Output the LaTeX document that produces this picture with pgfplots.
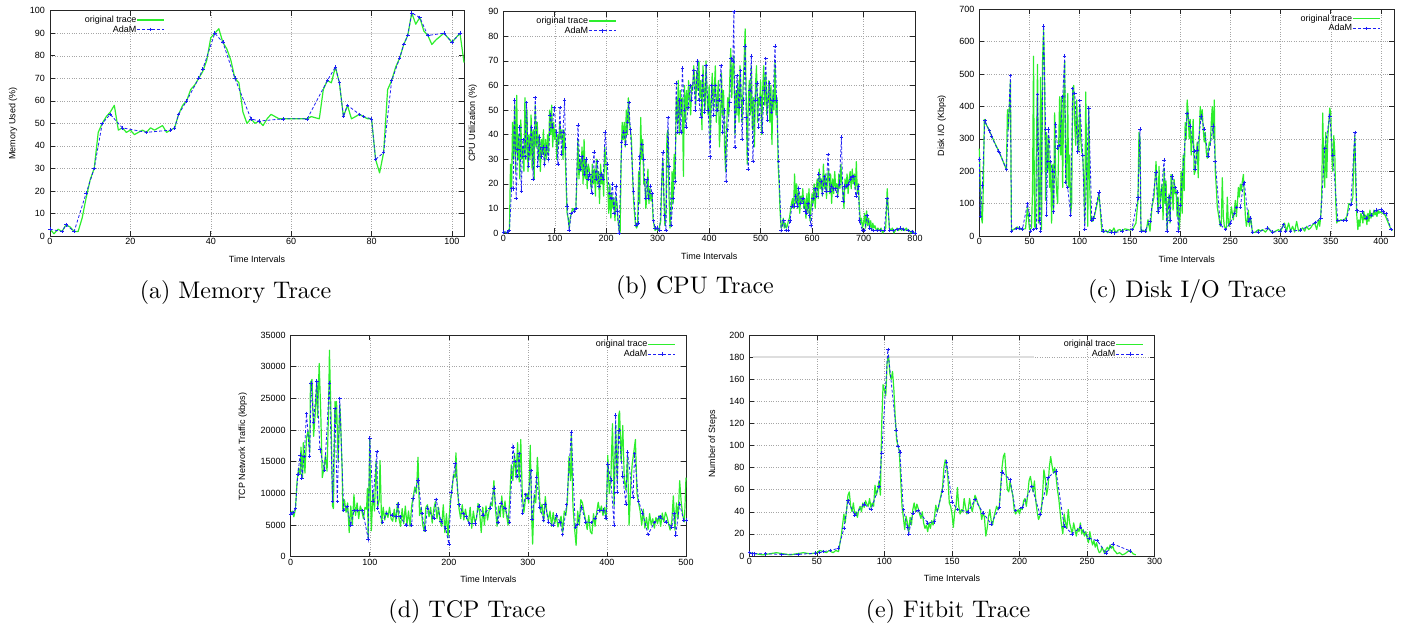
\documentclass[border=0pt]{standalone}
\usepackage{fontspec}
\usepackage{pgfplots}
\pgfplotsset{compat=1.18}
\newfontfamily\hv{Liberation Sans}
\newfontfamily\capfont{lmroman10-regular}[Extension=.otf]
\definecolor{gtrace}{RGB}{45,238,45}
\definecolor{adamc}{RGB}{30,30,245}
\pgfplotsset{
  trace/.style={
    scale only axis, anchor=south west, clip=false,
    axis line style={black!85, line width=0.8pt},
    tick align=inside, major tick length=5pt, tick style={black!85, line width=0.6pt},
    grid=major, major grid style={dotted, black!35, line width=0.5pt},
    ticklabel style={font=\hv\fontsize{9}{10}\selectfont},
    /pgf/number format/assume math mode=true,
    /pgf/number format/1000 sep={},
    scaled ticks=false,
    xticklabel style={yshift=1.5pt},
    yticklabel style={xshift=-1.5pt},
    legend style={draw=none, fill=none, font=\hv\fontsize{9}{10}\selectfont, inner sep=0pt, row sep=1pt, anchor=north east, nodes={inner sep=0.3pt}, /tikz/every even column/.append style={column sep=5pt}},
    legend cell align=right, legend plot pos=right,
    legend image code/.code={\draw[mark repeat=2,mark phase=2,##1] plot coordinates {(0pt,0pt) (13.5pt,0pt) (27pt,0pt)};},
  },
  orig/.style={color=gtrace, line width=1.2pt, no markers, line join=round},
  adam/.style={color=adamc, dash pattern=on 3pt off 2pt, line width=0.8pt, mark=+, mark size=1.8pt, mark options={solid, line width=0.6pt}},
}
\tikzset{lab/.style={font=\hv\fontsize{9}{10}\selectfont}, captxt/.style={font=\capfont\fontsize{24}{28}\selectfont, anchor=base}}
\begin{document}
\begin{tikzpicture}
\useasboundingbox (0pt,0pt) rectangle (1411pt,627pt);
% (a) Memory
\begin{axis}[trace, at={(50pt,391pt)}, width=414pt, height=225.3pt, xmin=0, xmax=103, ymin=0, ymax=100, xtick={0,20,...,100}, ytick={0,10,...,100}, legend style={at={(0.278,0.979)}}]
\draw[black!13, line width=1.2pt] (axis cs:29.5,90) -- (axis cs:103,90);
\addplot[orig] coordinates {(0,3)(1,1)(2,3)(3,2)(4,5)(5,4)(6,2)(7,2)(8,8)(9,17)(10,25)(11,30)(12,46)(13,50)(14,53)(15,55)(16,58)(17,47)(18,48)(19,46)(20,47)(21,45)(22,46)(23,47)(24,46)(25,48)(26,47)(27,48)(28,49)(29,46)(30,47)(31,48)(32,54)(33,58)(34,60)(35,65)(36,67)(37,70)(38,73)(39,78)(40,88)(41,90)(42,92)(43,86)(44,83)(45,78)(46,70)(47,68)(48,55)(49,50)(50,52)(51,50)(52,51)(53,49)(54,52)(55,54)(56,53)(57,52)(58,52)(64,52)(65,53)(67,52)(68,65)(69,69)(70,68)(71,75)(72,68)(73,53)(74,58)(75,52)(76,53)(77,54)(78,53)(79,52)(80,52)(81,34)(82,28)(83,37)(84,65)(85,69)(86,75)(87,79)(88,85)(89,89)(90,99)(91,94)(92,97)(93,91)(94,89)(95,85)(96,87)(98,90)(99,88)(100,86)(101,88)(102,90)(103,77)};
\addlegendentry{original trace}
\addplot[adam] coordinates {(0,3)(3,2)(4,5)(6,2)(9,19)(11,30)(13,50)(15,54)(18,48)(24,46)(30,47)(31,48)(32,54)(34,60)(37,70)(38,74)(41,90)(43,86)(46,70)(50,52)(52,51)(58,52)(64,52)(69,69)(71,75)(72,68)(73,53)(74,58)(77,54)(78,53)(80,52)(81,34)(83,37)(85,69)(87,79)(88,85)(89,89)(90,99)(92,97)(94,89)(98,90)(100,86)(102,90)};
\addlegendentry{AdaM}
\end{axis}
% (b) CPU
\begin{axis}[trace, at={(503.3pt,394pt)}, width=411.7pt, height=221.3pt, xmin=0, xmax=800, ymin=0, ymax=90, xtick={0,100,...,800}, ytick={0,10,...,90}, legend style={at={(0.2755,0.978)}}]
\addplot[orig] coordinates {(0,0)(3,0.5)(6,0)(9,0.5)(12,2)(14,28)(16,18)(18,45)(20,30)(22,52)(24,25)(26,56)(28,30)(30,40)(32,22)(34,46)(36,30)(38,35)(40,25)(42,55)(44,30)(46,50)(48,25)(50,40)(52,30)(54,48)(56,26)(58,42)(60,22)(62,52)(64,35)(66,45)(68,30)(70,40)(72,25)(74,38)(76,32)(78,42)(80,28)(82,38)(84,30)(86,40)(88,32)(90,50)(92,40)(94,52)(96,35)(98,45)(100,38)(102,42)(104,30)(106,40)(108,36)(110,45)(112,38)(114,42)(116,30)(118,42)(120,35)(122,20)(124,8)(126,6)(128,2)(130,6)(132,8)(135,10)(138,9)(141,10)(143,22)(145,38)(147,22)(149,30)(151,25)(153,35)(155,20)(157,38)(159,22)(161,30)(163,18)(165,28)(167,26)(169,22)(171,18)(173,28)(175,20)(177,26)(179,15)(181,30)(183,20)(185,25)(187,12)(189,28)(191,20)(193,24)(195,15)(197,35)(199,30)(201,22)(203,18)(205,8)(207,20)(209,6)(211,16)(213,10)(215,14)(217,5)(219,15)(221,12)(223,5)(225,2)(227,0)(229,30)(231,45)(233,38)(235,45)(237,35)(239,50)(241,40)(243,55)(245,45)(247,42)(249,38)(251,25)(253,14)(255,8)(257,3)(259,2)(261,3)(263,25)(265,12)(267,47)(269,30)(271,38)(273,20)(275,22)(277,10)(279,15)(281,26)(283,12)(285,18)(287,13)(289,16)(291,6)(293,3)(295,1)(297,2)(300,1)(303,2)(306,5)(308,22)(310,30)(312,15)(314,3)(316,8)(318,40)(320,42)(322,15)(324,2)(326,8)(328,25)(330,12)(332,32)(334,22)(336,55)(338,45)(340,62)(342,40)(344,58)(346,48)(348,55)(350,23)(352,60)(354,45)(356,58)(358,50)(360,62)(362,55)(364,48)(366,60)(368,58)(370,68)(372,62)(374,52)(376,66)(378,58)(380,70)(382,55)(384,62)(386,42)(388,68)(390,58)(392,50)(394,70)(396,55)(398,48)(400,60)(402,38)(404,55)(406,65)(408,50)(410,58)(412,68)(414,45)(416,55)(418,62)(420,35)(422,45)(424,65)(426,48)(428,58)(430,35)(432,25)(434,42)(436,55)(438,48)(440,62)(442,75)(444,55)(446,68)(448,72)(450,40)(452,58)(454,48)(456,62)(458,45)(460,68)(462,55)(464,45)(466,60)(468,70)(470,83)(472,55)(474,28)(476,52)(478,62)(480,48)(482,68)(484,42)(486,55)(488,35)(490,60)(492,68)(494,45)(496,55)(498,52)(500,62)(502,40)(504,58)(506,68)(508,52)(510,65)(512,48)(514,55)(516,62)(518,45)(520,60)(522,36)(524,58)(526,50)(528,70)(530,48)(532,55)(534,28)(536,20)(538,8)(540,2)(542,3)(544,6)(546,2)(548,4)(550,2)(552,3)(554,5)(556,6)(558,9)(560,12)(562,14)(564,10)(566,24)(568,12)(570,20)(572,10)(574,17)(576,8)(578,15)(580,12)(582,18)(584,10)(586,14)(588,6)(590,16)(592,8)(594,18)(596,5)(598,10)(600,16)(602,12)(604,20)(606,10)(608,18)(610,22)(612,14)(614,26)(616,18)(618,22)(620,15)(622,28)(624,18)(626,24)(628,14)(630,22)(632,26)(634,16)(636,24)(638,12)(640,22)(642,16)(644,25)(646,18)(648,20)(650,15)(652,24)(654,18)(656,28)(658,20)(660,16)(662,10)(664,22)(666,18)(668,24)(670,16)(672,22)(674,25)(676,18)(678,26)(680,20)(682,24)(684,18)(686,29)(688,16)(690,20)(692,10)(694,4)(696,6)(698,2)(700,4)(702,8)(704,2)(706,9)(708,3)(710,6)(712,2)(714,5)(716,1)(718,4)(720,2)(722,3)(725,1)(728,2)(731,1)(734,2)(737,0)(740,1)(743,2)(746,18)(748,10)(750,2)(753,1)(756,2)(759,0)(762,1)(765,2)(768,1)(771,2)(774,1)(777,2)(780,1)(783,2)(786,1)(789,1)(792,0)(795,1)(798,0)(800,0)};
\addlegendentry{original trace}
\addplot[adam] coordinates {(0,0.4)(8,0.4)(12,1)(16,18)(19,18)(22,54)(25,14)(28,34)(32,43)(35,17)(38,38)(42,31)(45,53)(49,27)(51,35)(55,43)(58,22)(62,55)(67,27)(70,39)(74,31)(77,35)(80,28)(84,35)(88,30)(91,48)(95,43)(99,51)(103,41)(106,28)(110,51)(113,32)(116,41)(119,54)(121,35)(124,11)(128,1)(132,8)(138,9)(141,10)(145,44)(149,26)(153,31)(158,24)(161,30)(165,22)(168,24)(172,16)(176,33)(180,22)(183,29)(186,19)(190,24)(194,22)(198,41)(202,28)(206,16)(209,14)(212,20)(215,8)(219,19)(221,9)(225,0)(230,37)(234,41)(238,36)(241,45)(244,53)(247,42)(253,17)(258,3)(262,4)(265,31)(269,36)(273,30)(276,14)(279,22)(282,14)(286,19)(289,16)(292,5)(295,2)(300,2)(304,1)(310,33)(313,7)(316,1)(320,47)(322,27)(326,3)(330,14)(334,21)(336,61)(339,41)(342,54)(345,41)(348,67)(352,50)(355,43)(359,51)(363,60)(366,54)(370,66)(373,50)(377,70)(380,54)(384,47)(387,64)(391,49)(394,68)(398,50)(402,31)(405,60)(409,48)(412,60)(415,50)(419,54)(423,68)(426,41)(430,50)(433,21)(436,42)(440,53)(443,71)(446,70)(448,90)(450,35)(454,64)(458,51)(461,66)(464,38)(467,54)(470,76)(472,47)(476,26)(479,58)(482,72)(485,29)(489,54)(493,61)(496,43)(500,55)(503,41)(507,58)(510,71)(513,46)(517,61)(521,49)(524,54)(528,76)(531,54)(535,29)(540,1)(545,5)(549,1)(553,1)(557,5)(561,11)(565,11)(568,15)(571,11)(574,18)(578,12)(582,14)(586,9)(589,8)(592,12)(595,7)(598,3)(602,14)(606,18)(609,15)(613,24)(617,21)(620,16)(624,23)(627,17)(631,32)(635,17)(638,19)(642,18)(646,18)(649,15)(653,20)(657,39)(660,13)(663,19)(667,19)(671,20)(675,22)(678,23)(681,23)(685,15)(690,19)(692,5)(698,1)(702,1)(707,7)(712,2)(718,1)(726,1)(733,1)(740,1)(746,14)(751,1)(757,1)(765,1.5)(772,2)(778,1.5)(786,1)(794,0.5)(800,0)};
\addlegendentry{AdaM}
\end{axis}
% (c) Disk
\begin{axis}[trace, at={(979.3pt,391pt)}, width=414.7pt, height=226.7pt, xmin=0, xmax=413, ymin=0, ymax=700, xtick={0,50,...,400}, ytick={0,100,...,700}, legend style={at={(0.968,0.978)}}]
\addplot[orig] coordinates {(0,270)(1,150)(2,60)(3,40)(4,150)(5,360)(6,350)(10,325)(15,290)(20,258)(27,205)(28,390)(29,330)(30,400)(31,480)(32,15)(33,18)(35,22)(38,28)(40,20)(43,22)(46,22)(48,90)(50,20)(52,25)(53,140)(54,555)(55,30)(56,25)(57,300)(58,530)(59,40)(60,50)(61,490)(62,20)(63,540)(64,640)(65,500)(66,110)(67,320)(68,200)(69,310)(70,150)(71,230)(72,40)(73,220)(74,80)(75,380)(76,200)(77,140)(78,100)(79,270)(80,430)(81,250)(82,430)(83,150)(84,420)(85,540)(86,200)(87,160)(88,440)(89,150)(90,250)(91,70)(92,100)(93,450)(94,465)(95,350)(96,280)(97,420)(98,300)(99,260)(100,400)(101,300)(102,260)(103,250)(104,180)(105,40)(106,445)(107,200)(108,30)(109,400)(110,150)(111,50)(112,60)(113,45)(114,55)(116,80)(118,110)(119,130)(120,100)(122,15)(124,12)(126,18)(128,10)(130,20)(132,12)(134,25)(136,10)(138,18)(140,20)(142,15)(145,22)(148,20)(150,18)(153,22)(156,40)(158,110)(159,320)(160,300)(161,15)(163,18)(166,12)(168,50)(170,15)(172,90)(174,120)(176,230)(177,150)(178,70)(179,215)(180,100)(182,160)(183,50)(184,210)(185,100)(186,170)(187,20)(188,100)(189,130)(190,40)(191,190)(192,160)(193,80)(194,175)(195,130)(196,140)(197,60)(198,120)(199,20)(200,60)(201,200)(202,70)(203,250)(204,140)(205,350)(206,300)(207,420)(208,380)(209,300)(210,360)(211,250)(212,300)(213,360)(214,190)(215,200)(216,250)(217,290)(218,180)(219,300)(220,400)(221,360)(222,390)(223,330)(224,290)(225,320)(226,260)(227,240)(228,260)(229,290)(230,280)(231,350)(232,400)(233,300)(234,420)(235,200)(236,150)(237,90)(238,70)(239,50)(240,30)(241,40)(242,180)(243,60)(244,30)(245,25)(246,20)(247,120)(248,40)(249,30)(250,60)(251,90)(252,70)(253,50)(254,80)(255,110)(256,60)(257,100)(258,150)(259,120)(260,160)(261,140)(262,170)(263,190)(264,120)(265,60)(266,30)(267,50)(268,80)(269,30)(270,60)(271,40)(272,10)(275,12)(278,20)(280,15)(282,20)(285,12)(288,25)(290,15)(292,10)(295,15)(298,20)(300,12)(302,30)(304,40)(306,15)(308,40)(310,15)(312,30)(314,12)(316,45)(318,15)(320,20)(322,25)(324,15)(326,30)(328,20)(330,25)(332,35)(334,40)(336,20)(338,50)(339,30)(340,60)(341,120)(342,380)(343,200)(344,150)(345,320)(346,180)(347,300)(348,350)(349,395)(350,380)(351,250)(352,200)(353,310)(354,260)(355,100)(356,40)(357,50)(358,45)(360,50)(362,48)(364,52)(366,60)(368,100)(370,95)(372,120)(373,250)(374,310)(375,150)(376,60)(377,20)(378,50)(379,30)(380,70)(381,60)(382,40)(383,75)(384,50)(385,65)(386,35)(387,70)(388,45)(389,80)(390,55)(391,70)(392,60)(393,80)(394,65)(395,75)(396,60)(397,80)(398,70)(399,75)(400,72)(402,70)(404,65)(406,50)(408,35)(410,20)(412,18)};
\addlegendentry{original trace}
\addplot[adam] coordinates {(0,238)(1,60)(3,155)(5.5,356)(10,325)(12,308)(19,262)(20,258)(27,205)(31,495)(32,15)(37,23)(40,25)(43,22)(48,100)(50,65)(51,15)(54,20)(57,25)(58,437)(60,50)(61,15)(64,648)(66,330)(67,65)(68,230)(69,330)(71,230)(73,200)(74,75)(76,345)(78,270)(80,280)(83,430)(85,555)(86,165)(88,150)(91,65)(93,455)(95,440)(98,260)(100,418)(103,250)(105,20)(109,395)(112,50)(114,55)(119,135)(123,15)(131,12)(134,10)(142,15)(152,20)(158,118)(160,330)(161,15)(165,15)(170,45)(176,198)(178,75)(180,90)(184,235)(187,15)(189,120)(190,50)(192,185)(195,150)(197,135)(198,15)(200,95)(207,378)(210,340)(214,262)(215,205)(217,265)(221,370)(224,330)(228,245)(233,340)(235,230)(240,35)(245,20)(250,40)(254,70)(256,88)(260,90)(263,160)(264,165)(268,45)(270,55)(272,12)(278,12)(287,25)(292,12)(300,15)(303,35)(305,15)(310,15)(320,18)(335,42)(340,55)(344,270)(349,370)(352,250)(357,48)(362,48)(365,48)(370,98)(374,320)(376,78)(381,75)(385,55)(390,65)(395,80)(400,82)(402,75)(405,70)(410,20)};
\addlegendentry{AdaM}
\end{axis}
% (d) TCP
\begin{axis}[trace, at={(290.7pt,70.3pt)}, width=395.3pt, height=221.7pt, xmin=0, xmax=500, ymin=0, ymax=35000, xtick={0,100,...,500}, ytick={0,5000,...,35000}, legend style={at={(0.975,0.978)}}]
\addplot[orig] coordinates {(0,6800)(2,7200)(4,6300)(6,7500)(8,11800)(10,14000)(12,13000)(13,17300)(15,12500)(16,18000)(18,13200)(20,18800)(22,19800)(24,16500)(25,27500)(27,28000)(29,19000)(31,22600)(33,27800)(34,22000)(36,30500)(38,22800)(40,12500)(42,14000)(44,16000)(46,13500)(48,24000)(49,32600)(51,22000)(53,8000)(54,7600)(56,24500)(57,21000)(58,24500)(60,15000)(62,24000)(63,21800)(65,14000)(66,7200)(68,9000)(70,7000)(72,8500)(74,3800)(76,8000)(78,5000)(80,9800)(82,6500)(84,8500)(86,6000)(88,8000)(90,7200)(92,6000)(94,7800)(96,7500)(97,10800)(98,3000)(100,18500)(101,9000)(102,4100)(104,10200)(106,7200)(108,15000)(110,7800)(112,9000)(113,15200)(115,5200)(117,7800)(119,5800)(121,7200)(123,6200)(125,7800)(127,6000)(129,5600)(131,7500)(133,5500)(135,8500)(137,6000)(139,4800)(141,7600)(143,5200)(145,8000)(147,5000)(149,7200)(151,4800)(153,8000)(155,9500)(157,11000)(159,10000)(161,15700)(163,6500)(165,7800)(167,5000)(169,4000)(171,7800)(173,8200)(175,6300)(177,7800)(179,5300)(181,7500)(183,8700)(185,6000)(187,7800)(189,5500)(191,4800)(193,8200)(195,3800)(197,6800)(199,3000)(200,5500)(202,8800)(204,10500)(206,13000)(208,12500)(209,16400)(211,10500)(213,7500)(215,6000)(217,8200)(219,5800)(221,7500)(223,6000)(225,5500)(227,7800)(229,4500)(231,7200)(233,5500)(235,6000)(237,8400)(239,7000)(241,3800)(243,7800)(245,5000)(247,8000)(249,5800)(251,7300)(253,8500)(255,8000)(257,12000)(259,7500)(261,4800)(263,8000)(265,6300)(267,9600)(269,6200)(271,8800)(273,6500)(275,5000)(277,9000)(279,14500)(281,12000)(283,16300)(285,12500)(287,18000)(289,11800)(291,18500)(293,9500)(295,7000)(297,9200)(299,10000)(301,8500)(303,17600)(305,5500)(306,2000)(308,9800)(310,8500)(312,15700)(314,11000)(316,7000)(318,8300)(320,5500)(322,9500)(324,7000)(326,5800)(328,7200)(330,4800)(332,7000)(334,5200)(336,6500)(338,4700)(340,5500)(342,6400)(344,3900)(346,7200)(348,6500)(350,8800)(352,15800)(354,12000)(355,19500)(357,8000)(359,4500)(361,1800)(363,7200)(365,5000)(367,9000)(369,8500)(371,7000)(373,5800)(375,4300)(377,6500)(379,4000)(381,3600)(383,6800)(385,4800)(387,7000)(389,8600)(391,7000)(393,8000)(395,6500)(397,7800)(399,5800)(401,16000)(403,10000)(405,12500)(407,21000)(409,8000)(411,20800)(413,12000)(415,22400)(416,23000)(418,15000)(420,20700)(422,12000)(424,10500)(426,16000)(428,5000)(430,11000)(432,14700)(434,16500)(436,18500)(438,10000)(440,8500)(442,7200)(444,5000)(446,7500)(448,4500)(450,6200)(452,4300)(454,6800)(456,5000)(458,6000)(460,4500)(462,6200)(464,5200)(466,6500)(468,4800)(470,6900)(472,5500)(474,7000)(476,6300)(478,5200)(480,4200)(482,5500)(484,9600)(486,4200)(488,8500)(490,6000)(492,12000)(494,8500)(496,6500)(498,5500)(500,12500)};
\addlegendentry{original trace}
\addplot[adam] coordinates {(0,6740)(3,6950)(6,7580)(9,13050)(12,16050)(14,12370)(17,15800)(20,22600)(24,15900)(26,27400)(29,21200)(33,27700)(37,16900)(43,13700)(49,27400)(53,8700)(56,23400)(59,8700)(62,25000)(67,7400)(71,7900)(76,5000)(80,7300)(84,7300)(91,7300)(98,2800)(100,18700)(104,8800)(109,16600)(110,7600)(116,5500)(121,6800)(128,6600)(133,6300)(136,8300)(138,6300)(146,5000)(153,5000)(155,9200)(161,12100)(166,6800)(170,4200)(173,7700)(181,6000)(184,9000)(190,5600)(196,4500)(200,2000)(203,10200)(208,14700)(213,8200)(218,6800)(222,6300)(226,5200)(233,5200)(238,8000)(243,6600)(252,7700)(257,10800)(262,5400)(266,8500)(271,7600)(277,5500)(281,17300)(284,15000)(286,12700)(289,16300)(293,6900)(297,9800)(300,9200)(304,13600)(305,5900)(311,12500)(315,7800)(320,5800)(322,8300)(326,5500)(332,4900)(336,6600)(341,5400)(344,3500)(349,8200)(355,19700)(360,4700)(363,5100)(368,7800)(373,5500)(380,5400)(385,6100)(390,7300)(395,7400)(399,6000)(401,14600)(405,12100)(409,5000)(411,22400)(413,10200)(415,20000)(420,12700)(424,8300)(426,16500)(433,9400)(435,16300)(440,8800)(445,6900)(452,3500)(460,5400)(467,6300)(475,5500)(482,4700)(485,6800)(487,3400)(492,8300)(497,5800)(500,5800)};
\addlegendentry{AdaM}
\end{axis}
% (e) Fitbit
\begin{axis}[trace, at={(749.3pt,71pt)}, width=405.4pt, height=221pt, xmin=0, xmax=300, ymin=0, ymax=200, xtick={0,50,...,300}, ytick={0,20,...,200}, legend style={at={(0.974,0.978)}}]
\draw[black!13, line width=1.2pt] (axis cs:2.5,180) -- (axis cs:211,180);
\addplot[orig] coordinates {(0,3)(5,2)(10,1)(15,2)(20,3)(25,2)(30,1)(35,2)(40,3)(45,2)(50,3)(52,5)(55,4)(57,3)(59,5)(62,3)(64,5)(66,4)(68,18)(70,38)(71,30)(72,42)(73,55)(74,58)(75,45)(76,40)(77,48)(78,38)(79,40)(80,35)(81,42)(82,45)(83,40)(84,48)(85,44)(86,50)(87,47)(88,45)(89,52)(90,44)(91,48)(92,45)(93,64)(94,55)(95,60)(96,68)(97,55)(98,120)(99,155)(100,150)(101,145)(102,175)(103,182)(104,165)(105,160)(106,167)(107,150)(108,125)(109,105)(110,100)(111,95)(112,70)(113,45)(114,35)(115,24)(116,36)(117,30)(118,22)(119,35)(120,28)(121,42)(122,48)(123,40)(124,47)(125,43)(126,38)(127,34)(128,40)(129,30)(130,25)(131,28)(132,22)(133,30)(134,25)(135,32)(136,28)(137,35)(138,46)(139,40)(140,44)(141,50)(142,56)(143,62)(144,80)(145,87)(146,82)(147,70)(148,48)(149,45)(150,38)(151,26)(152,40)(153,45)(154,62)(155,45)(156,38)(157,42)(158,40)(159,52)(160,44)(161,38)(162,42)(163,52)(164,45)(165,40)(166,47)(167,55)(168,52)(169,48)(170,45)(171,42)(172,33)(173,40)(174,35)(175,18)(176,25)(177,35)(178,42)(179,32)(180,28)(181,35)(182,40)(183,45)(184,42)(185,45)(186,62)(187,80)(188,90)(189,93)(190,75)(191,60)(192,58)(193,68)(194,60)(195,55)(196,42)(197,38)(198,40)(199,42)(200,38)(201,44)(202,42)(203,50)(204,52)(205,45)(206,55)(207,68)(208,72)(209,65)(210,58)(211,68)(212,50)(213,40)(214,33)(215,36)(216,40)(217,55)(218,78)(219,70)(220,55)(221,62)(222,80)(223,90)(224,82)(225,75)(226,80)(227,72)(228,60)(229,52)(230,40)(231,28)(232,20)(233,38)(234,30)(235,25)(236,42)(237,30)(238,25)(239,20)(240,30)(241,24)(242,18)(243,25)(244,22)(245,30)(246,20)(247,24)(248,18)(249,22)(250,16)(251,12)(252,22)(253,15)(254,10)(255,14)(256,8)(257,12)(258,6)(259,3)(260,4)(261,8)(262,5)(263,2)(264,6)(265,8)(266,5)(267,10)(268,7)(269,9)(270,5)(271,4)(272,2)(274,3)(276,1)(278,2)(280,4)(282,5)(284,2)(286,1)};
\addlegendentry{original trace}
\addplot[adam] coordinates {(0,3)(2,2)(4,2)(12,2)(24,1.5)(36,1.5)(49,2.5)(52,3)(55,4)(60,5)(66,7)(70,25)(73,50)(78,37)(85,47)(90,42)(96,63)(98,93)(102.5,187)(108.7,114)(110,99)(111.4,94)(114,42)(117,26)(118,20)(121,39)(125,41)(132,30)(137,31)(143,59)(146,85)(150,49)(154,42)(162,40)(167,51)(173,39)(179,29)(185,44)(187,76)(193,69)(197,41)(202,44)(209,63)(215,38)(221,71)(227,77)(233,27)(239,20)(245,26)(251.5,16)(257.5,14)(264,2.5)(269,11)(282,4.5)};
\addlegendentry{AdaM}
\end{axis}
% axis labels
\node[lab] at (257pt,368pt) {Time Intervals};
\node[lab, rotate=90] at (13pt,503.3pt) {Memory Used (\%)};
\node[lab] at (709.2pt,371pt) {Time Intervals};
\node[lab, rotate=90] at (472.7pt,503.7pt) {CPU Utilization (\%)};
\node[lab] at (1186.7pt,368pt) {Time Intervals};
\node[lab, rotate=90] at (941.7pt,501.2pt) {Disk I/O (Kbps)};
\node[lab] at (488.4pt,48pt) {Time Intervals};
\node[lab, rotate=90] at (242.7pt,180.3pt) {TCP Network Traffic (kbps)};
\node[lab] at (952pt,49pt) {Time Intervals};
\node[lab, rotate=90] at (712.7pt,183pt) {Number of Steps};
% captions
\node[captxt] at (235.5pt,328.7pt) {(a) Memory Trace};
\node[captxt] at (695pt,333.5pt) {(b) CPU Trace};
\node[captxt] at (1187pt,329pt) {(c) Disk I/O Trace};
\node[captxt] at (467pt,10pt) {(d) TCP Trace};
\node[captxt] at (948pt,10pt) {(e) Fitbit Trace};
\end{tikzpicture}
\end{document}
